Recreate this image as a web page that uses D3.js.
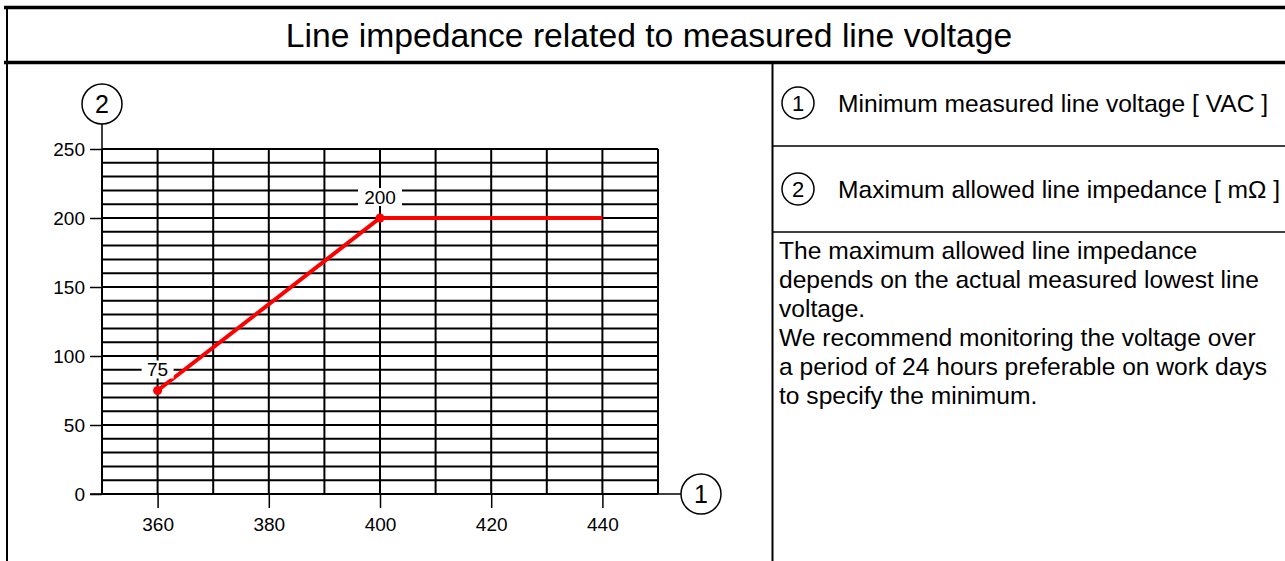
<!DOCTYPE html>
<html>
<head>
<meta charset="utf-8">
<script src="https://cdn.jsdelivr.net/npm/d3@7"></script>
<style>
    body { margin: 0; background: #fff; }
    svg { display: block; font-family: "Liberation Sans", Arial, sans-serif; }
</style>
</head>
<body>
<div id="chart"></div>
<script>
const title = "Line impedance related to measured line voltage";

const voltage = [360, 400, 440];
const impedance = [75, 200, 200];
const showMarker = [true, true, false];

const xTicks = [360, 380, 400, 420, 440];
const yTicks = [0, 50, 100, 150, 200, 250];
const xDomain = [350, 450];
const yDomain = [0, 250];

const legendNumbers = ["1", "2"];
const legendTexts = ["Minimum measured line voltage [ VAC ]", "Maximum allowed line impedance [ mΩ ]"];
const noteLines = [
    "The maximum allowed line impedance",
    "depends on the actual measured lowest line",
    "voltage.",
    "We recommend monitoring the voltage over",
    "a period of 24 hours preferable on work days",
    "to specify the minimum."
];

const W = 1285, H = 561;
const plot = { left: 102, right: 658, top: 149, bottom: 494 };
const divider = 772.5;

const svg = d3.select("#chart").append("svg")
    .attr("width", W)
    .attr("height", H);

// frame
svg.append("line").attr("x1", 4).attr("x2", W).attr("y1", 7.5).attr("y2", 7.5)
    .attr("stroke", "#000").attr("stroke-width", 3.5);
svg.append("line").attr("x1", 4).attr("x2", W).attr("y1", 62.5).attr("y2", 62.5)
    .attr("stroke", "#000").attr("stroke-width", 3.5);
svg.append("line").attr("x1", 7).attr("x2", 7).attr("y1", 6).attr("y2", H)
    .attr("stroke", "#000").attr("stroke-width", 2);
svg.append("line").attr("x1", divider).attr("x2", divider).attr("y1", 62).attr("y2", H)
    .attr("stroke", "#000").attr("stroke-width", 2);

svg.append("text")
    .attr("x", 649).attr("y", 47)
    .attr("text-anchor", "middle")
    .attr("font-size", 33.7)
    .text(title);

// chart
const x = d3.scaleLinear().domain(xDomain).range([plot.left, plot.right]);
const y = d3.scaleLinear().domain(yDomain).range([plot.bottom, plot.top]);

const grid = svg.append("g").attr("stroke", "#000").attr("stroke-width", 2);
grid.selectAll(".hline")
    .data(d3.range(yDomain[0], yDomain[1] + 1, 10))
    .enter().append("line")
    .attr("x1", plot.left).attr("x2", plot.right)
    .attr("y1", d => y(d)).attr("y2", d => y(d));
grid.selectAll(".vline")
    .data(d3.range(xDomain[0], xDomain[1] + 1, 10))
    .enter().append("line")
    .attr("x1", d => x(d)).attr("x2", d => x(d))
    .attr("y1", plot.top).attr("y2", plot.bottom);

// axes
const yAxis = svg.append("g")
    .attr("transform", `translate(${plot.left},0)`)
    .call(d3.axisLeft(y).tickValues(yTicks).tickSize(12).tickPadding(5));
const xAxis = svg.append("g")
    .attr("transform", `translate(0,${plot.bottom})`)
    .call(d3.axisBottom(x).tickValues(xTicks).tickSize(14).tickPadding(10));
[xAxis, yAxis].forEach(a => {
    a.attr("font-size", 19).attr("font-family", null);
    a.select(".domain").remove();
    a.selectAll(".tick line").attr("stroke", "#000").attr("stroke-width", 1.5);
    a.selectAll(".tick text").attr("fill", "#000");
});

// axis extensions with number circles
const r = 20;
const c1 = { x: 701, y: plot.bottom };
const c2 = { x: plot.left, y: 104 };
svg.append("line").attr("x1", plot.left - 12).attr("x2", c1.x - r)
    .attr("y1", plot.bottom).attr("y2", plot.bottom)
    .attr("stroke", "#000").attr("stroke-width", 1.5);
svg.append("line").attr("x1", plot.left).attr("x2", plot.left)
    .attr("y1", c2.y + r).attr("y2", plot.bottom)
    .attr("stroke", "#000").attr("stroke-width", 1.5);

[[c1, "1"], [c2, "2"]].forEach(([c, t]) => {
    svg.append("circle").attr("cx", c.x).attr("cy", c.y).attr("r", r)
        .attr("fill", "#fff").attr("stroke", "#000").attr("stroke-width", 1.5);
    svg.append("text").attr("x", c.x).attr("y", c.y).attr("dy", "0.36em")
        .attr("text-anchor", "middle").attr("font-size", 25).text(t);
});

// data line
const pts = voltage.map((v, i) => ({ v: v, z: impedance[i], mark: showMarker[i] }));
const line = d3.line().x(d => x(d.v)).y(d => y(d.z));
svg.append("path")
    .datum(pts)
    .attr("fill", "none")
    .attr("stroke", "#ff0000")
    .attr("stroke-width", 4)
    .attr("d", line);

const marked = pts.filter(d => d.mark);
svg.selectAll(".dot")
    .data(marked)
    .enter().append("circle")
    .attr("cx", d => x(d.v)).attr("cy", d => y(d.z))
    .attr("r", 4.5).attr("fill", "#ff0000");

const lab = svg.selectAll(".ptlabel")
    .data(marked)
    .enter().append("g")
    .attr("transform", d => `translate(${x(d.v)},${y(d.z) - 21})`);
lab.append("rect")
    .attr("x", d => -String(d.z).length * 6 - 4).attr("y", -9)
    .attr("width", d => String(d.z).length * 12 + 8).attr("height", 18)
    .attr("fill", "#fff");
lab.append("text")
    .attr("text-anchor", "middle").attr("dy", "0.36em")
    .attr("font-size", 19)
    .text(d => d.z);

// right panel
const rowCenters = [103, 189];
[146, 232].forEach(yy => {
    svg.append("line").attr("x1", divider).attr("x2", W)
        .attr("y1", yy).attr("y2", yy)
        .attr("stroke", "#000").attr("stroke-width", 1.5);
});

legendNumbers.forEach((n, i) => {
    const cy = rowCenters[i];
    svg.append("circle").attr("cx", 798).attr("cy", cy).attr("r", 16)
        .attr("fill", "#fff").attr("stroke", "#000").attr("stroke-width", 1.5);
    svg.append("text").attr("x", 798).attr("y", cy).attr("dy", "0.36em")
        .attr("text-anchor", "middle").attr("font-size", 22).text(n);
    svg.append("text").attr("x", 838).attr("y", cy).attr("dy", "0.36em")
        .attr("font-size", 24.6).text(legendTexts[i]);
});

svg.append("g").selectAll("text")
    .data(noteLines)
    .enter().append("text")
    .attr("x", 779)
    .attr("y", (d, i) => 259 + i * 29)
    .attr("font-size", 24.6)
    .text(d => d);
</script>
</body>
</html>
